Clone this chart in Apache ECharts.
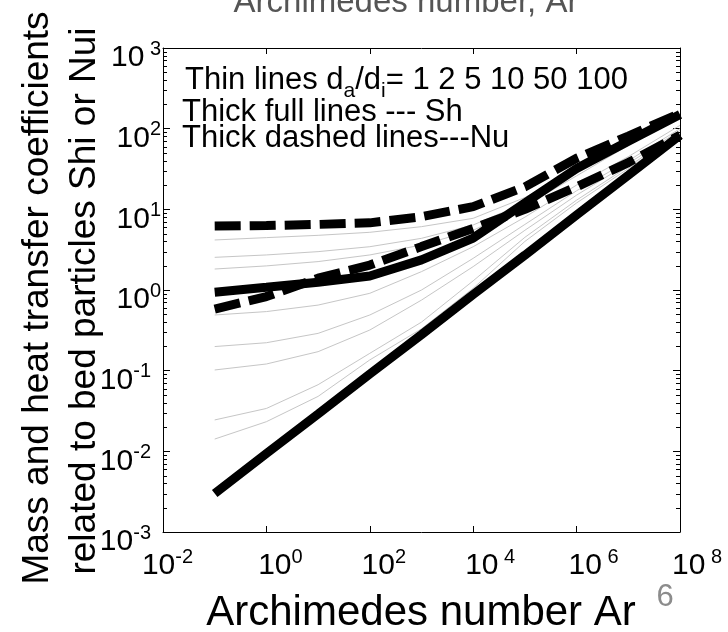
<!DOCTYPE html>
<html><head><meta charset="utf-8">
<script src="https://cdn.jsdelivr.net/npm/echarts@6/dist/echarts.min.js"></script>
<style>html,body{margin:0;padding:0;background:#fff}#c{width:728px;height:632px}</style>
</head><body><div id="c"></div>
<script>
// Archimedes number (x) at every vertex of the curves
const arValues = [1e-1, 1e0, 1e1, 1e2, 1e3, 1e4, 1e5, 1e6, 1e7, 1e8];
// Thick dashed lines (Nu)
const nuThickUpper = [6.2, 6.3, 6.5, 6.8, 8.1, 10.8, 19, 43, 81, 155];
const nuThickLower = [0.58, 0.83, 1.40, 2.04, 3.45, 5.8, 10, 19, 38, 83];
// Thick full lines (Sh)
const shThickUpper = [0.94, 1.08, 1.25, 1.49, 2.36, 4.4, 12, 32, 70, 150];
const shThickLower = [0.0030, 0.0094, 0.029, 0.091, 0.28, 0.88, 2.7, 8.5, 26.5, 83];
// Thin lines (d_a/d_i = 1 2 5 10 50 100)
const thin1 = [4.17, 4.46, 4.76, 5.19, 6.10, 7.74, 14, 32, 70, 145];
const thin2 = [2.54, 2.72, 2.99, 3.44, 4.37, 6.4, 12, 28, 65, 140];
const thin3 = [1.82, 1.99, 2.25, 2.72, 3.61, 5.5, 11, 26, 62, 135];
const thin4 = [0.49, 0.54, 0.65, 0.91, 1.69, 3.44, 8, 20, 45, 110];
const thin5 = [0.199, 0.222, 0.29, 0.49, 1.0, 2.47, 6.5, 17, 40, 100];
const thin6 = [0.102, 0.121, 0.172, 0.319, 0.75, 1.95, 5.5, 15, 37, 95];
const thin7 = [0.0245, 0.034, 0.067, 0.164, 0.40, 1.3, 4.5, 13, 34, 90];
const thin8 = [0.0142, 0.0233, 0.048, 0.136, 0.33, 1.05, 4, 12, 32, 88];
const thinLines = [thin1, thin2, thin3, thin4, thin5, thin6, thin7, thin8];
// Axis tick labels (exponents of 10)
const xTickExp = ['-2', '0', '2', '4', '6', '8'];
const yTickExp = ['-3', '-2', '-1', '0', '1', '2', '3'];
// Texts
const xTitle = 'Archimedes number Ar';
const yTitle1 = 'Mass and heat transfer coefficients';
const yTitle2 = 'related to bed particles Shi or Nui';
const topTitle = 'Archimedes number, Ar';
const pageNo = '6';

const FONT = '"Liberation Sans", Arial, Helvetica, sans-serif';
const X_MIN = 1e-2, X_MAX = 1e8, Y_MIN = 1e-3, Y_MAX = 1e3;

const pairs = arr => arValues.map((x, i) => [x, arr[i]]);

// log minor ticks on y axis (2..9 within every decade)
const yMinor = [];
for (let e = -3; e < 3; e++) for (let m = 2; m <= 9; m++) yMinor.push([1, m * Math.pow(10, e)]);

const series = [];
thinLines.forEach(arr => series.push({
  type: 'line', data: pairs(arr), symbol: 'none', silent: true,
  lineStyle: { color: '#c6c6c6', width: 1 }, z: 2
}));
series.push({ type: 'line', data: pairs(shThickLower), symbol: 'none', lineStyle: { color: '#000', width: 9, cap: 'butt' }, z: 3 });
series.push({ type: 'line', data: pairs(shThickUpper), symbol: 'none', lineStyle: { color: '#000', width: 9, cap: 'butt' }, z: 3 });
series.push({ type: 'line', data: pairs(nuThickLower), symbol: 'none', lineStyle: { color: '#000', width: 9, type: [26, 9], cap: 'butt' }, z: 4 });
series.push({ type: 'line', data: pairs(nuThickUpper), symbol: 'none', lineStyle: { color: '#000', width: 9, type: [26, 9], cap: 'butt' }, z: 4 });
series.push({
  type: 'custom', data: yMinor, silent: true, clip: false, z: 6,
  renderItem: (params, api) => {
    const v = api.value(1);
    const pL = api.coord([X_MIN, v]);
    const pR = api.coord([X_MAX, v]);
    const y = Math.round(pL[1]) + 0.5;
    return { type: 'group', children: [
      { type: 'line', shape: { x1: pL[0], y1: y, x2: pL[0] + 4, y2: y }, style: { stroke: '#000', lineWidth: 1 } },
      { type: 'line', shape: { x1: pR[0] - 4, y1: y, x2: pR[0], y2: y }, style: { stroke: '#000', lineWidth: 1 } }
    ] };
  }
});

const expOf = v => String(Math.round(Math.log10(v)));

const nBase = { fontSize: 30, fontFamily: FONT, color: '#000', lineHeight: 34, verticalAlign: 'bottom' };
const eBase = { fontSize: 20, fontFamily: FONT, color: '#000', verticalAlign: 'top' };
const xRich = {
  n0: Object.assign({}, nBase, { padding: [0, 0, 0, 28] }),
  nm: Object.assign({}, nBase, { padding: [0, 0, 0, 9] }),
  ng: Object.assign({}, nBase, { padding: [0, 0, 0, 34] }),
  e: eBase
};
const yRich = {
  n: nBase,
  e: eBase,
  em: Object.assign({}, eBase, { padding: [0, 10, 0, 0] })
};

const option = {
  animation: false,
  backgroundColor: '#fff',
  grid: { left: 163, right: 48, top: 48, bottom: 100, containLabel: false },
  xAxis: [{
    type: 'log', logBase: 10, min: X_MIN, max: X_MAX, interval: 2,
    axisLine: { show: true, onZero: false, lineStyle: { color: '#000', width: 1 } },
    axisTick: { show: true, inside: true, length: 6, lineStyle: { color: '#000' } },
    minorTick: { show: false }, splitLine: { show: false },
    axisLabel: {
      margin: 15, align: 'center',
      formatter: v => {
        const e = expOf(v);
        if (xTickExp.indexOf(e) < 0) return '';
        if (e.startsWith('-')) return '{nm|10}{e|' + e + '}';
        if (e === '0' || e === '2') return '{n0|10}{e|' + e + '}';
        return '{ng|10}{e| ' + e + '}';
      },
      rich: xRich
    }
  }, {
    type: 'log', logBase: 10, min: X_MIN, max: X_MAX, interval: 2, position: 'top',
    axisLine: { show: true, onZero: false, lineStyle: { color: '#000', width: 1 } },
    axisTick: { show: true, inside: true, length: 6, lineStyle: { color: '#000' } },
    axisLabel: { show: false }, splitLine: { show: false }
  }],
  yAxis: [{
    type: 'log', logBase: 10, min: Y_MIN, max: Y_MAX, interval: 1,
    axisLine: { show: true, onZero: false, lineStyle: { color: '#000', width: 1 } },
    axisTick: { show: true, inside: true, length: 7, lineStyle: { color: '#000' } },
    splitLine: { show: false },
    axisLabel: {
      margin: 2, padding: [16, 0, 0, 0],
      formatter: v => {
        const e = expOf(v);
        if (yTickExp.indexOf(e) < 0) return '';
        if (e.startsWith('-')) return '{n|10}{em|' + e + '}';
        if (e === '3') return '{n|10}{e| ' + e + '}';
        return '{n|10}{e|' + e + '}';
      },
      rich: yRich
    }
  }, {
    type: 'log', logBase: 10, min: Y_MIN, max: Y_MAX, interval: 1, position: 'right',
    axisLine: { show: true, onZero: false, lineStyle: { color: '#000', width: 1 } },
    axisTick: { show: true, inside: true, length: 7, lineStyle: { color: '#000' } },
    axisLabel: { show: false }, splitLine: { show: false }
  }],
  series: series,
  graphic: [
    { type: 'text', x: 185, y: 83, z: 10, style: {
      text: '{n|Thin lines d}{s|a}{n|/d}{s|i}{n|= 1 2 5 10 50 100}', verticalAlign: 'middle',
      rich: { n: { fontSize: 31, fontFamily: FONT, fill: '#000', lineHeight: 37, verticalAlign: 'top' }, s: { fontSize: 21, fontFamily: FONT, fill: '#000', verticalAlign: 'bottom' } } } },
    { type: 'text', x: 182, y: 112, z: 10, style: { text: 'Thick full lines --- Sh', fontSize: 31, fontFamily: FONT, fill: '#000', verticalAlign: 'middle' } },
    { type: 'text', x: 182, y: 138, z: 10, style: { text: 'Thick dashed lines---Nu', fontSize: 31, fontFamily: FONT, fill: '#000', verticalAlign: 'middle' } },
    { type: 'text', x: 38, y: 298, rotation: Math.PI / 2, z: 10, style: { text: yTitle1, fontSize: 37, fontFamily: FONT, fill: '#000', align: 'center', verticalAlign: 'middle' } },
    { type: 'text', x: 85, y: 301, rotation: Math.PI / 2, z: 10, style: { text: yTitle2, fontSize: 37, fontFamily: FONT, fill: '#000', align: 'center', verticalAlign: 'middle' } },
    { type: 'text', x: 421, y: 613, z: 10, style: { text: xTitle, fontSize: 42, fontFamily: FONT, fill: '#000', align: 'center', verticalAlign: 'middle' } },
    { type: 'text', x: 406, y: 3, z: 10, style: { text: topTitle, fontSize: 33, fontFamily: FONT, fill: '#555', align: 'center', verticalAlign: 'middle' } },
    { type: 'text', x: 665, y: 597, z: 10, style: { text: pageNo, fontSize: 31, fontFamily: FONT, fill: '#8c8c8c', align: 'center', verticalAlign: 'middle' } }
  ]
};
const chart = echarts.init(document.getElementById('c'), null, { renderer: 'canvas' });
chart.setOption(option);
</script>
</body></html>
